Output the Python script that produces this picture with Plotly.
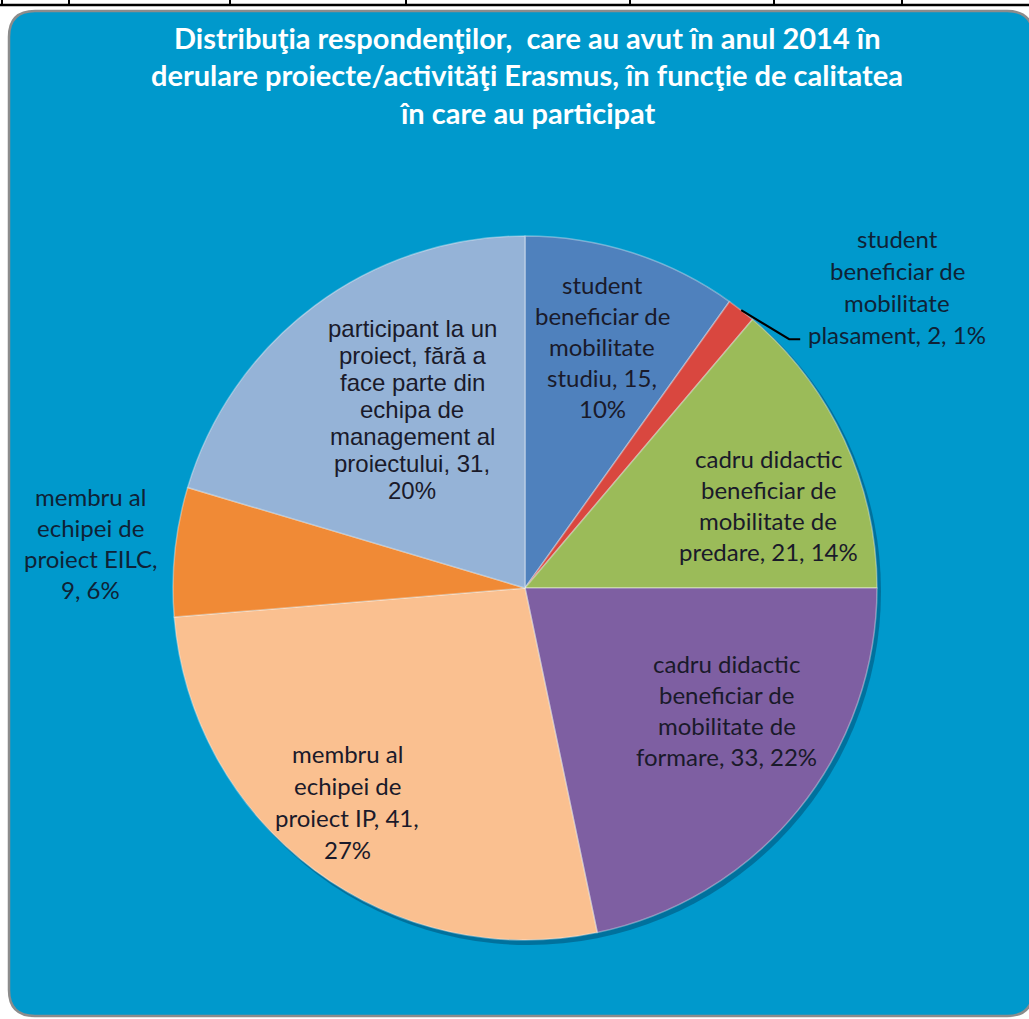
import math
import plotly.graph_objects as go

# ---------------- data ----------------
categories = [
    "student beneficiar de mobilitate studiu",
    "student beneficiar de mobilitate plasament",
    "cadru didactic beneficiar de mobilitate de predare",
    "cadru didactic beneficiar de mobilitate de formare",
    "membru al echipei de proiect IP",
    "membru al echipei de proiect EILC",
    "participant la un proiect, fără a face parte din echipa de management al proiectului",
]
values = [15, 2, 21, 33, 41, 9, 31]
label_templates = [
    "student|beneficiar de|mobilitate|studiu, {v},|{p}%",
    "student|beneficiar de|mobilitate|plasament, {v}, {p}%",
    "cadru didactic|beneficiar de|mobilitate de|predare, {v}, {p}%",
    "cadru didactic|beneficiar de|mobilitate de|formare, {v}, {p}%",
    "membru al|echipei de|proiect IP, {v},|{p}%",
    "membru al|echipei de|proiect EILC,|{v}, {p}%",
    "participant la un|proiect, fără a|face parte din|echipa de|management al|proiectului, {v},|{p}%",
]
title_lines = [
    "Distribuţia respondenţilor,  care au avut în anul 2014 în",
    "derulare proiecte/activităţi Erasmus, în funcţie de calitatea",
    "în care au participat",
]

# ---------------- styling ----------------
colors = ["#4F81BD", "#D9473F", "#9BBB59", "#7E5FA2", "#FAC090", "#F08A36", "#95B3D7"]
W, H = 1029, 1019
CX, CY, R = 525, 588, 352
BG = "#0099CC"
# label placement (angle nudge in degrees, radius fraction, font family, size, line spacing px)
label_style = [
    (0, 0.72, "Lato", 24, 31),
    (None, None, "Lato", 24, 32),
    (6, 0.73, "Lato", 24, 31),
    (-8, 0.67, "Lato", 24, 31),
    (3, 0.79, "Lato", 24, 32),
    (0, 1.24, "Lato", 24, 31),
    (4.5, 0.60, "Liberation Sans", 24, 27),
]


def px(x):
    return x / W


def py(y):
    return 1 - y / H


fig = go.Figure()

fig.add_trace(go.Pie(
    labels=categories,
    values=values,
    sort=False,
    direction="clockwise",
    rotation=0,
    textinfo="none",
    hoverinfo="label+value+percent",
    marker=dict(colors=colors, line=dict(color="rgba(255,255,255,0.35)", width=1.5)),
    domain=dict(x=[px(CX - R), px(CX + R)], y=[py(CY + R), py(CY - R)]),
    showlegend=False,
))

shapes = []
# top table lines
shapes.append(dict(type="line", xref="paper", yref="paper", x0=0, x1=1, y0=py(5), y1=py(5),
                   line=dict(color="black", width=2.5)))
for vx in [2, 69, 230, 406, 630, 774, 902]:
    shapes.append(dict(type="line", xref="paper", yref="paper", x0=px(vx), x1=px(vx), y0=py(0), y1=py(5),
                       line=dict(color="black", width=2)))

# rounded blue panel
x0, x1, y0, y1, rr = 9, 1033, 11, 1016, 26
path = (f"M {px(x0+rr)},{py(y0)} L {px(x1-rr)},{py(y0)} Q {px(x1)},{py(y0)} {px(x1)},{py(y0+rr)} "
        f"L {px(x1)},{py(y1-rr)} Q {px(x1)},{py(y1)} {px(x1-rr)},{py(y1)} "
        f"L {px(x0+rr)},{py(y1)} Q {px(x0)},{py(y1)} {px(x0)},{py(y1-rr)} "
        f"L {px(x0)},{py(y0+rr)} Q {px(x0)},{py(y0)} {px(x0+rr)},{py(y0)} Z")
shapes.append(dict(type="path", xref="paper", yref="paper", path=path, fillcolor=BG,
                   line=dict(color="#8C8C8C", width=2.5), layer="below"))
# soft pie shadow
shapes.append(dict(type="circle", xref="paper", yref="paper",
                   x0=px(CX - R + 3), x1=px(CX + R + 4), y0=py(CY + R + 5), y1=py(CY - R + 2),
                   fillcolor="rgba(0,40,70,0.35)", line=dict(width=0), layer="below"))

annotations = []
# title
for i, t in enumerate(title_lines):
    annotations.append(dict(text=f"<b>{t}</b>", xref="paper", yref="paper", x=px(527), y=py(37 + i * 37.5),
                            showarrow=False, xanchor="center", yanchor="middle",
                            font=dict(family="Lato", size=29, color="white")))

total = sum(values)
cum = 0
for i, v in enumerate(values):
    mid = (cum + v / 2) / total * 360
    cum += v
    pct = round(v / total * 100)
    lines = label_templates[i].format(v=v, p=pct).split("|")
    nudge, rf, fam, fs, sp = label_style[i]
    if nudge is None:
        # outside label with leader line (plasament)
        a = math.radians(mid)
        sx, sy = CX + R * math.sin(a), CY - R * math.cos(a)
        ex, ey = sx + 48, sy + 29
        shapes.append(dict(type="path", xref="paper", yref="paper",
                           path=f"M {px(sx)},{py(sy)} L {px(ex)},{py(ey)} L {px(ex+11)},{py(ey)}",
                           line=dict(color="black", width=2)))
        lx = ex + 11 + 97
        ly_last = ey - 5
        n = len(lines)
        for j, ln in enumerate(lines):
            annotations.append(dict(text=ln, xref="paper", yref="paper", x=px(lx),
                                    y=py(ly_last - (n - 1 - j) * sp), showarrow=False,
                                    xanchor="center", yanchor="middle",
                                    font=dict(family=fam, size=fs, color="#0F2236")))
        continue
    a = math.radians(mid + nudge)
    lx, ly = CX + rf * R * math.sin(a), CY - rf * R * math.cos(a)
    n = len(lines)
    for j, ln in enumerate(lines):
        annotations.append(dict(text=ln, xref="paper", yref="paper", x=px(lx),
                                y=py(ly + (j - (n - 1) / 2) * sp), showarrow=False,
                                xanchor="center", yanchor="middle",
                                font=dict(family=fam, size=fs,
                                          color="#1A1A2A" if rf < 1 else "#0F2236")))

fig.update_layout(
    width=W, height=H,
    margin=dict(l=0, r=0, t=0, b=0),
    paper_bgcolor="white",
    plot_bgcolor="white",
    shapes=shapes,
    annotations=annotations,
)

fig.write_html("out.html", config={"displayModeBar": False},
               post_script="document.body.style.margin='0px';document.body.style.overflow='hidden';")
